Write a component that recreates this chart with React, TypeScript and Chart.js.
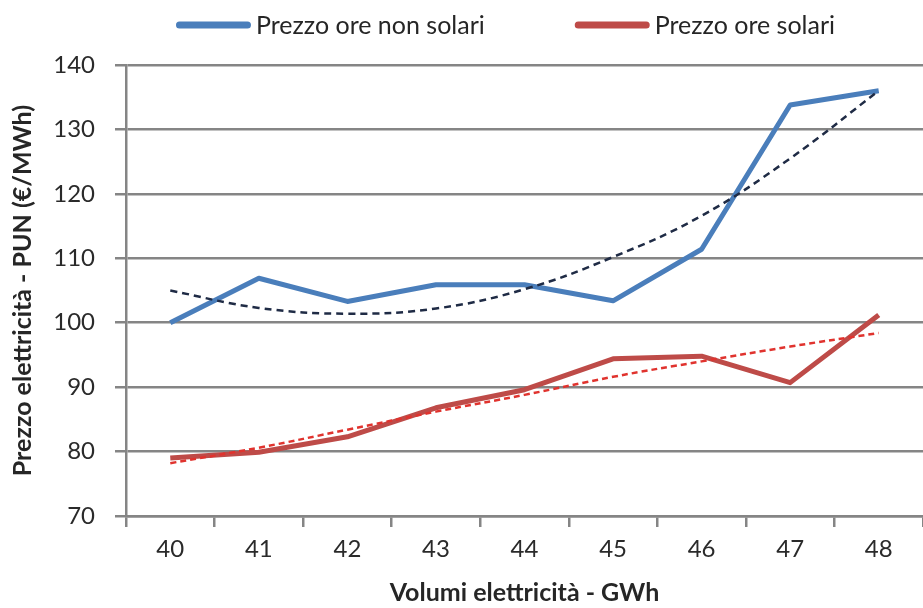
import React, { useEffect, useRef } from "react";
import { Chart, registerables } from "chart.js";

Chart.register(...registerables);

const categories = ["40", "41", "42", "43", "44", "45", "46", "47", "48"];
const nonSolarPrice = [100.0, 106.9, 103.3, 105.9, 105.9, 103.4, 111.4, 133.8, 136.0];
const solarPrice = [79.0, 79.9, 82.3, 86.8, 89.6, 94.4, 94.8, 90.7, 101.2];
const nonSolarTrend = [105.0, 102.3, 101.4, 102.2, 105.2, 110.2, 116.6, 125.5, 136.0];
const solarTrend = [78.2, 80.6, 83.4, 86.2, 88.8, 91.6, 94.0, 96.3, 98.4];
const yTicks = { min: 70, max: 140, step: 10 };
const seriesNames = ["Prezzo ore non solari", "Prezzo ore solari"];
const xTitle = "Volumi elettricità - GWh";
const yTitle = "Prezzo elettricità - PUN (€/MWh)";

const BLUE = "#4A7EBB";
const RED = "#BE4B48";
const GRID = "#858585";
const FONT = "Lato, 'Open Sans', sans-serif";

const legendPlugin = {
  id: "customLegend",
  afterDraw(chart: any) {
    const ctx = chart.ctx;
    const items = chart.data.datasets.filter((d: any) => !d.isTrend);
    const sampleW = 75;
    const sampleH = 7;
    const gapText = 5;
    const itemGap = 90;
    ctx.save();
    ctx.font = `25px ${FONT}`;
    const widths = items.map((d: any) => sampleW + gapText + ctx.measureText(d.label).width);
    const total = widths.reduce((a: number, b: number) => a + b, 0) + itemGap * (items.length - 1);
    let x = chart.width / 2 + 44 - total / 2;
    const y = 25;
    items.forEach((d: any, i: number) => {
      ctx.fillStyle = d.borderColor;
      ctx.beginPath();
      ctx.roundRect(x, y - sampleH / 2, sampleW, sampleH, sampleH / 2);
      ctx.fill();
      ctx.fillStyle = "#262626";
      ctx.textBaseline = "middle";
      ctx.textAlign = "left";
      ctx.fillText(d.label, x + sampleW + gapText, y + 1);
      x += widths[i] + itemGap;
    });
    ctx.restore();
  },
};

export default function App() {
  const ref = useRef<HTMLCanvasElement | null>(null);
  useEffect(() => {
    if (!ref.current) return;
    const chart = new Chart(ref.current, {
      type: "line",
      data: {
        labels: categories,
        datasets: [
          {
            label: seriesNames[0],
            data: nonSolarPrice,
            borderColor: BLUE,
            backgroundColor: BLUE,
            borderWidth: 5,
            pointRadius: 0,
            tension: 0,
            borderJoinStyle: "round",
            order: 2,
          } as any,
          {
            label: seriesNames[1],
            data: solarPrice,
            borderColor: RED,
            backgroundColor: RED,
            borderWidth: 5,
            pointRadius: 0,
            tension: 0,
            borderJoinStyle: "round",
            order: 2,
          } as any,
          {
            label: "trend non solari",
            isTrend: true,
            data: nonSolarTrend,
            borderColor: "#1F2B45",
            borderWidth: 2.5,
            borderDash: [7, 5],
            pointRadius: 0,
            tension: 0.4,
            order: 1,
          } as any,
          {
            label: "trend solari",
            isTrend: true,
            data: solarTrend,
            borderColor: "#E0332E",
            borderWidth: 2.5,
            borderDash: [6, 4],
            pointRadius: 0,
            tension: 0.4,
            order: 1,
          } as any,
        ],
      },
      options: {
        responsive: false,
        animation: false,
        layout: { padding: { top: 65, right: 0, bottom: 0, left: 0 } },
        plugins: {
          legend: { display: false },
          tooltip: { enabled: false },
        },
        scales: {
          x: {
            offset: true,
            grid: {
              offset: true,
              drawOnChartArea: false,
              drawTicks: true,
              tickLength: 11,
              color: GRID,
              lineWidth: 2.5,
            },
            border: { display: true, color: GRID, width: 2.5 },
            ticks: {
              color: "#2A2A2A",
              font: { family: FONT, size: 24 },
              padding: 8,
              maxRotation: 0,
            },
            title: {
              display: true,
              text: xTitle,
              color: "#262626",
              font: { family: FONT, size: 25, weight: "bold" },
              padding: { top: 0, bottom: 0 },
            },
            afterFit(scale: any) {
              scale.height = 92;
            },
          },
          y: {
            min: yTicks.min,
            max: yTicks.max,
            grid: {
              color: GRID,
              lineWidth: 2.5,
              tickLength: 11,
            },
            border: { display: true, color: GRID, width: 2.5 },
            ticks: {
              stepSize: yTicks.step,
              color: "#2A2A2A",
              font: { family: FONT, size: 24 },
              padding: 20,
            },
            title: {
              display: true,
              text: yTitle,
              color: "#262626",
              font: { family: FONT, size: 25, weight: "bold" },
              padding: { top: 8, bottom: 0 },
            },
            afterFit(scale: any) {
              scale.width = 126;
            },
          },
        },
      } as any,
      plugins: [legendPlugin],
    });
    return () => chart.destroy();
  }, []);
  return (
    <div style={{ position: "absolute", left: 0, top: 0, width: 923, height: 608, background: "#fff" }}>
      <canvas ref={ref} width={923} height={608} />
    </div>
  );
}
